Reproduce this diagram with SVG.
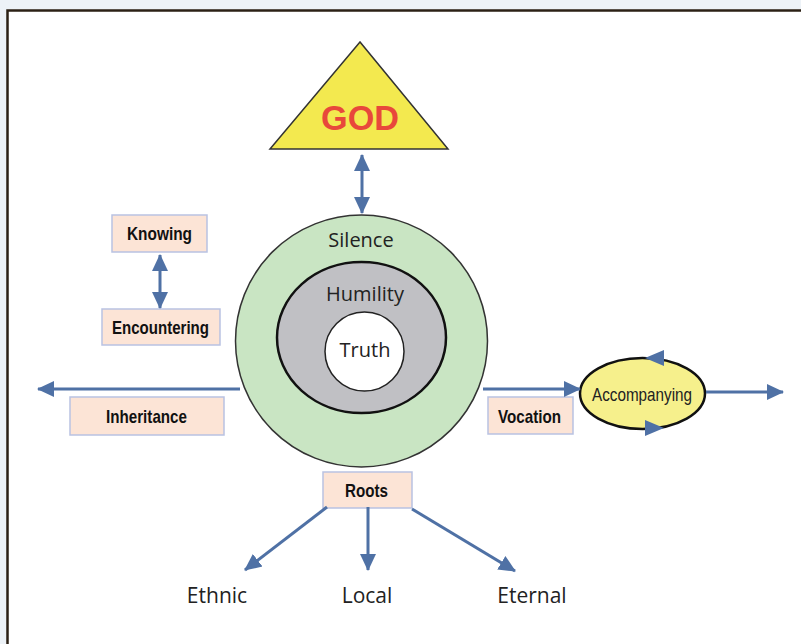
<svg xmlns="http://www.w3.org/2000/svg" width="801" height="644" viewBox="0 0 801 644">
<style>
.box{fill:#fce4d6;stroke:#b9c2e2;stroke-width:1.5}
.bl{font-family:"Liberation Sans",Arial,sans-serif;font-weight:bold;font-size:18.5px;fill:#111;text-anchor:middle}
.cl{font-family:"Open Sans","Liberation Sans",sans-serif;font-size:20px;fill:#222;text-anchor:middle}
.ll{font-family:"Open Sans","Liberation Sans",sans-serif;font-size:21px;fill:#222;text-anchor:middle}
.con{stroke:#4f71a5;stroke-width:3;fill:none}
</style>
<defs>
<marker id="ah" markerUnits="userSpaceOnUse" markerWidth="18" markerHeight="18" viewBox="0 0 18 18" refX="16" refY="9" orient="auto-start-reverse">
<path d="M0,1 L17,9 L0,17 Z" fill="#4f71a5"/>
</marker>
</defs>
<rect x="0" y="0" width="801" height="644" fill="#edf2f7"/>
<rect x="7.5" y="10.5" width="800" height="640" fill="#ffffff" stroke="#2b2015" stroke-width="2.5"/>

<g id="god">
<polygon points="360,42 270,149 448,149" fill="#f3e94f" stroke="#333" stroke-width="1.5"/>
<text x="360" y="130" font-family="Liberation Sans,Arial,sans-serif" font-weight="bold" font-size="35" fill="#e8483b" text-anchor="middle" textLength="78" lengthAdjust="spacingAndGlyphs">GOD</text>
</g>

<g id="circles">
<circle cx="361.5" cy="341" r="126" fill="#c9e5c3" stroke="#333" stroke-width="1.5"/>
<ellipse cx="361.5" cy="337.5" rx="84.5" ry="75.5" fill="#c0c0c4" stroke="#111" stroke-width="2.5"/>
<circle cx="364.5" cy="351.5" r="39.5" fill="#ffffff" stroke="#222" stroke-width="1.5"/>
<text class="cl" x="361" y="247">Silence</text>
<text class="cl" x="365" y="301">Humility</text>
<text class="cl" x="365" y="357">Truth</text>
</g>

<g id="knowing">
<rect class="box" x="112" y="215" width="95" height="37"/>
<text class="bl" x="159.5" y="240" textLength="65" lengthAdjust="spacingAndGlyphs">Knowing</text>
</g>
<g id="encountering">
<rect class="box" x="102" y="309" width="118" height="36"/>
<text class="bl" x="160.5" y="334" textLength="97" lengthAdjust="spacingAndGlyphs">Encountering</text>
</g>
<g id="inheritance">
<rect class="box" x="70" y="397" width="154" height="38"/>
<text class="bl" x="146.5" y="423" textLength="81" lengthAdjust="spacingAndGlyphs">Inheritance</text>
</g>
<g id="vocation">
<rect class="box" x="488" y="397" width="85" height="37"/>
<text class="bl" x="529.5" y="423" textLength="63" lengthAdjust="spacingAndGlyphs">Vocation</text>
</g>
<g id="roots">
<rect class="box" x="323" y="472" width="89" height="36"/>
<text class="bl" x="366.5" y="497" textLength="43" lengthAdjust="spacingAndGlyphs">Roots</text>
</g>
<g id="accompanying">
<ellipse cx="642.5" cy="393.5" rx="62.5" ry="35.5" fill="#f6f08c" stroke="#111" stroke-width="2.5"/>
<text x="642" y="401" font-family="Liberation Sans,Arial,sans-serif" font-size="19" fill="#222" text-anchor="middle" textLength="100" lengthAdjust="spacingAndGlyphs">Accompanying</text>
<path d="M645,358 L664,350 L664,366 Z" fill="#4f71a5"/>
<path d="M664,428 L645,420 L645,436 Z" fill="#4f71a5"/>
</g>
<g id="ethnic"><text class="ll" x="217" y="603">Ethnic</text></g>
<g id="local"><text class="ll" x="367" y="603">Local</text></g>
<g id="eternal"><text class="ll" x="532" y="603">Eternal</text></g>

<g id="connectors">
<line class="con" x1="362" y1="155" x2="362" y2="213" marker-start="url(#ah)" marker-end="url(#ah)"/>
<line class="con" x1="160" y1="255" x2="160" y2="308" marker-start="url(#ah)" marker-end="url(#ah)"/>
<line class="con" x1="240" y1="389" x2="38" y2="389" marker-end="url(#ah)"/>
<line class="con" x1="483" y1="389" x2="580" y2="389" marker-end="url(#ah)"/>
<line class="con" x1="706" y1="392" x2="783" y2="392" marker-end="url(#ah)"/>
<line class="con" x1="327" y1="507" x2="245" y2="570" marker-end="url(#ah)"/>
<line class="con" x1="368" y1="507" x2="368" y2="570" marker-end="url(#ah)"/>
<line class="con" x1="412" y1="509" x2="515" y2="571" marker-end="url(#ah)"/>
</g>
</svg>
